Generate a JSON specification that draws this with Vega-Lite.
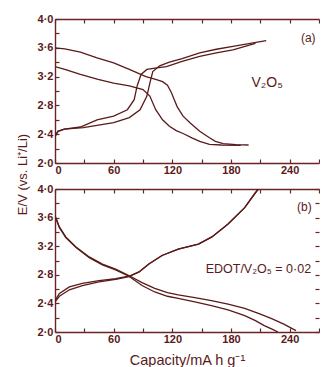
{
  "$schema": "https://vega.github.io/schema/vega-lite/v6.json",
  "background": "white",
  "padding": {"left": 16, "top": 13, "right": 0, "bottom": 0},
  "bounds": "flush",
  "spacing": 26,
  "config": {
    "view": {"stroke": null},
    "font": "Liberation Sans",
    "axis": {
      "domainColor": "#6a2424", "domainWidth": 1.4, "tickColor": "#6a2424", "tickWidth": 1.2,
      "tickSize": -4, "labelColor": "#5a1a1a", "labelFont": "Liberation Sans", "labelFontSize": 11,
      "labelFontWeight": "bold", "grid": false, "titleColor": "#5a1a1a", "titleFont": "Liberation Sans",
      "titleFontWeight": "normal", "titleFontSize": 13
    },
    "text": {"font": "Liberation Sans", "color": "#5a1a1a"}
  },
  "datasets": {
    "a": [
      {"s": "d1", "cap": 0, "v": 3.60}, {"s": "d1", "cap": 10, "v": 3.585}, {"s": "d1", "cap": 26, "v": 3.54},
      {"s": "d1", "cap": 43, "v": 3.46}, {"s": "d1", "cap": 60, "v": 3.39}, {"s": "d1", "cap": 76, "v": 3.30},
      {"s": "d1", "cap": 93, "v": 3.20}, {"s": "d1", "cap": 103, "v": 3.16}, {"s": "d1", "cap": 110, "v": 3.13},
      {"s": "d1", "cap": 115, "v": 3.08}, {"s": "d1", "cap": 119, "v": 2.98}, {"s": "d1", "cap": 122, "v": 2.88},
      {"s": "d1", "cap": 125, "v": 2.78}, {"s": "d1", "cap": 131, "v": 2.65}, {"s": "d1", "cap": 138, "v": 2.56},
      {"s": "d1", "cap": 148, "v": 2.44}, {"s": "d1", "cap": 158, "v": 2.35}, {"s": "d1", "cap": 164, "v": 2.30},
      {"s": "d1", "cap": 172, "v": 2.27}, {"s": "d1", "cap": 185, "v": 2.255}, {"s": "d1", "cap": 198, "v": 2.25},
      {"s": "d2", "cap": 0, "v": 3.34}, {"s": "d2", "cap": 10, "v": 3.30}, {"s": "d2", "cap": 26, "v": 3.23},
      {"s": "d2", "cap": 44, "v": 3.16}, {"s": "d2", "cap": 60, "v": 3.11}, {"s": "d2", "cap": 76, "v": 3.07},
      {"s": "d2", "cap": 90, "v": 3.02}, {"s": "d2", "cap": 97, "v": 2.93}, {"s": "d2", "cap": 103, "v": 2.74},
      {"s": "d2", "cap": 110, "v": 2.60}, {"s": "d2", "cap": 117, "v": 2.51}, {"s": "d2", "cap": 124, "v": 2.45},
      {"s": "d2", "cap": 131, "v": 2.41}, {"s": "d2", "cap": 140, "v": 2.35}, {"s": "d2", "cap": 148, "v": 2.30},
      {"s": "d2", "cap": 158, "v": 2.26}, {"s": "d2", "cap": 170, "v": 2.25}, {"s": "d2", "cap": 190, "v": 2.245},
      {"s": "c1", "cap": 0, "v": 2.37}, {"s": "c1", "cap": 3, "v": 2.44}, {"s": "c1", "cap": 9.5, "v": 2.47},
      {"s": "c1", "cap": 26, "v": 2.50}, {"s": "c1", "cap": 43, "v": 2.60}, {"s": "c1", "cap": 60, "v": 2.65},
      {"s": "c1", "cap": 74, "v": 2.74}, {"s": "c1", "cap": 81, "v": 2.88}, {"s": "c1", "cap": 84, "v": 3.07},
      {"s": "c1", "cap": 88, "v": 3.23}, {"s": "c1", "cap": 94, "v": 3.30}, {"s": "c1", "cap": 104, "v": 3.32},
      {"s": "c1", "cap": 114, "v": 3.34}, {"s": "c1", "cap": 130, "v": 3.41}, {"s": "c1", "cap": 148, "v": 3.48},
      {"s": "c1", "cap": 165, "v": 3.53}, {"s": "c1", "cap": 182, "v": 3.57}, {"s": "c1", "cap": 205, "v": 3.66},
      {"s": "c2", "cap": 0, "v": 2.37}, {"s": "c2", "cap": 3, "v": 2.44}, {"s": "c2", "cap": 9.5, "v": 2.47},
      {"s": "c2", "cap": 29, "v": 2.49}, {"s": "c2", "cap": 60, "v": 2.56}, {"s": "c2", "cap": 76, "v": 2.63},
      {"s": "c2", "cap": 87, "v": 2.74}, {"s": "c2", "cap": 94, "v": 2.93}, {"s": "c2", "cap": 97, "v": 3.11},
      {"s": "c2", "cap": 100, "v": 3.27}, {"s": "c2", "cap": 107, "v": 3.35}, {"s": "c2", "cap": 117, "v": 3.40},
      {"s": "c2", "cap": 130, "v": 3.45}, {"s": "c2", "cap": 148, "v": 3.53}, {"s": "c2", "cap": 165, "v": 3.58},
      {"s": "c2", "cap": 182, "v": 3.62}, {"s": "c2", "cap": 216, "v": 3.70}
    ],
    "b": [
      {"s": "e1", "cap": 0, "v": 3.63}, {"s": "e1", "cap": 4.5, "v": 3.47}, {"s": "e1", "cap": 11, "v": 3.33},
      {"s": "e1", "cap": 21.5, "v": 3.19}, {"s": "e1", "cap": 35, "v": 3.05}, {"s": "e1", "cap": 48.5, "v": 2.95},
      {"s": "e1", "cap": 62, "v": 2.88}, {"s": "e1", "cap": 75.5, "v": 2.79}, {"s": "e1", "cap": 89, "v": 2.69},
      {"s": "e1", "cap": 102, "v": 2.61}, {"s": "e1", "cap": 115, "v": 2.55}, {"s": "e1", "cap": 126, "v": 2.52},
      {"s": "e1", "cap": 143, "v": 2.48}, {"s": "e1", "cap": 160, "v": 2.44}, {"s": "e1", "cap": 177, "v": 2.39},
      {"s": "e1", "cap": 194, "v": 2.33}, {"s": "e1", "cap": 208, "v": 2.26}, {"s": "e1", "cap": 221, "v": 2.19},
      {"s": "e1", "cap": 234, "v": 2.11}, {"s": "e1", "cap": 246.5, "v": 2.02},
      {"s": "e2", "cap": 0, "v": 3.62}, {"s": "e2", "cap": 4.5, "v": 3.46}, {"s": "e2", "cap": 11, "v": 3.32},
      {"s": "e2", "cap": 21.5, "v": 3.18}, {"s": "e2", "cap": 35, "v": 3.04}, {"s": "e2", "cap": 48.5, "v": 2.94},
      {"s": "e2", "cap": 62, "v": 2.87}, {"s": "e2", "cap": 75.5, "v": 2.78}, {"s": "e2", "cap": 89, "v": 2.65},
      {"s": "e2", "cap": 102, "v": 2.56}, {"s": "e2", "cap": 115, "v": 2.50}, {"s": "e2", "cap": 126, "v": 2.47},
      {"s": "e2", "cap": 143, "v": 2.42}, {"s": "e2", "cap": 160, "v": 2.37}, {"s": "e2", "cap": 177, "v": 2.31},
      {"s": "e2", "cap": 194, "v": 2.23}, {"s": "e2", "cap": 205, "v": 2.16}, {"s": "e2", "cap": 214, "v": 2.09},
      {"s": "e2", "cap": 222, "v": 2.04}, {"s": "e2", "cap": 228, "v": 2.0},
      {"s": "f1", "cap": 0, "v": 2.44}, {"s": "f1", "cap": 4.5, "v": 2.54}, {"s": "f1", "cap": 14.7, "v": 2.63},
      {"s": "f1", "cap": 28, "v": 2.68}, {"s": "f1", "cap": 45, "v": 2.72}, {"s": "f1", "cap": 62, "v": 2.745},
      {"s": "f1", "cap": 75.6, "v": 2.78}, {"s": "f1", "cap": 86, "v": 2.84}, {"s": "f1", "cap": 96, "v": 2.95},
      {"s": "f1", "cap": 109.5, "v": 3.07}, {"s": "f1", "cap": 126, "v": 3.16}, {"s": "f1", "cap": 146.7, "v": 3.23},
      {"s": "f1", "cap": 160.5, "v": 3.33}, {"s": "f1", "cap": 177, "v": 3.51}, {"s": "f1", "cap": 194, "v": 3.74},
      {"s": "f1", "cap": 204, "v": 3.93}, {"s": "f1", "cap": 208, "v": 4.0},
      {"s": "f2", "cap": 0, "v": 2.42}, {"s": "f2", "cap": 4.5, "v": 2.50}, {"s": "f2", "cap": 14.7, "v": 2.59},
      {"s": "f2", "cap": 28, "v": 2.65}, {"s": "f2", "cap": 45, "v": 2.70}, {"s": "f2", "cap": 62, "v": 2.735},
      {"s": "f2", "cap": 75.6, "v": 2.775}, {"s": "f2", "cap": 86, "v": 2.84}, {"s": "f2", "cap": 96, "v": 2.95},
      {"s": "f2", "cap": 109.5, "v": 3.07}, {"s": "f2", "cap": 126, "v": 3.16}, {"s": "f2", "cap": 146.7, "v": 3.23},
      {"s": "f2", "cap": 160.5, "v": 3.33}, {"s": "f2", "cap": 177, "v": 3.51}, {"s": "f2", "cap": 194, "v": 3.74},
      {"s": "f2", "cap": 204, "v": 3.93}, {"s": "f2", "cap": 208, "v": 4.0}
    ],
    "ta": [
      {"label": "(a)", "cap": 259, "v": 3.74, "size": 12},
      {"label": "V₂O₅", "cap": 217, "v": 3.11, "size": 14}
    ],
    "tb": [
      {"label": "(b)", "cap": 255, "v": 3.75, "size": 12},
      {"label": "EDOT/V₂O₅ = 0·02", "cap": 208, "v": 2.88, "size": 12.5}
    ]
  },
  "vconcat": [
    {
      "width": 264,
      "height": 144,
      "resolve": {"axis": {"x": "independent", "y": "independent"}},
      "layer": [
        {
          "data": {"name": "a"},
          "mark": {"type": "line", "color": "#5a1a1a", "strokeWidth": 1.3, "clip": true},
          "encoding": {
            "x": {"field": "cap", "type": "quantitative", "scale": {"domain": [0, 270], "nice": false, "zero": false},
              "axis": {"orient": "bottom", "title": null, "values": [0, 30, 60, 90, 120, 150, 180, 210, 240, 270],
                "labelExpr": "datum.value % 60 == 0 && datum.value <= 240 ? datum.label : ''", "labelPadding": 5}},
            "y": {"field": "v", "type": "quantitative", "scale": {"domain": [2, 4], "nice": false, "zero": false},
              "axis": {"orient": "left", "title": "E/V (vs. Li⁺/Li)", "titleY": 155, "titlePadding": 8,
                "values": [2.0, 2.2, 2.4, 2.6, 2.8, 3.0, 3.2, 3.4, 3.6, 3.8, 4.0],
                "labelExpr": "round(datum.value*10) % 4 == 0 ? replace(format(datum.value, '.1f'), '.', '·') : ''", "labelPadding": 6}},
            "detail": {"field": "s"}
          }
        },
        {
          "data": {"name": "a"},
          "mark": {"type": "point", "opacity": 0},
          "encoding": {
            "x": {"field": "cap", "type": "quantitative",
              "axis": {"orient": "top", "title": null, "labels": false, "values": [0, 30, 60, 90, 120, 150, 180, 210, 240, 270]}},
            "y": {"field": "v", "type": "quantitative", "axis": null}
          }
        },
        {
          "data": {"name": "ta"},
          "mark": {"type": "text"},
          "encoding": {
            "x": {"field": "cap", "type": "quantitative", "axis": null},
            "y": {"field": "v", "type": "quantitative", "axis": null},
            "size": {"field": "size", "type": "quantitative", "scale": null, "legend": null},
            "text": {"field": "label"}
          }
        }
      ]
    },
    {
      "width": 264,
      "height": 143,
      "resolve": {"axis": {"x": "independent", "y": "independent"}},
      "layer": [
        {
          "data": {"name": "b"},
          "mark": {"type": "line", "color": "#5a1a1a", "strokeWidth": 1.3, "clip": true},
          "encoding": {
            "x": {"field": "cap", "type": "quantitative", "scale": {"domain": [0, 270], "nice": false, "zero": false},
              "axis": {"orient": "bottom", "title": "Capacity/mA h g⁻¹", "titlePadding": 9, "titleFontSize": 14.5,
                "values": [0, 30, 60, 90, 120, 150, 180, 210, 240, 270],
                "labelExpr": "datum.value % 60 == 0 && datum.value <= 240 ? datum.label : ''", "labelPadding": 5}},
            "y": {"field": "v", "type": "quantitative", "scale": {"domain": [2, 4], "nice": false, "zero": false},
              "axis": {"orient": "left", "title": null,
                "values": [2.0, 2.2, 2.4, 2.6, 2.8, 3.0, 3.2, 3.4, 3.6, 3.8, 4.0],
                "labelExpr": "round(datum.value*10) % 4 == 0 ? replace(format(datum.value, '.1f'), '.', '·') : ''", "labelPadding": 6}},
            "detail": {"field": "s"}
          }
        },
        {
          "data": {"name": "b"},
          "mark": {"type": "point", "opacity": 0},
          "encoding": {
            "x": {"field": "cap", "type": "quantitative",
              "axis": {"orient": "top", "title": null, "labels": false, "values": [0, 30, 60, 90, 120, 150, 180, 210, 240, 270]}},
            "y": {"field": "v", "type": "quantitative",
              "axis": {"orient": "right", "title": null, "labels": false, "domain": false, "values": [2.0, 2.2, 2.4, 2.6, 2.8, 3.0, 3.2, 3.4, 3.6, 3.8, 4.0]}}
          }
        },
        {
          "data": {"name": "tb"},
          "mark": {"type": "text"},
          "encoding": {
            "x": {"field": "cap", "type": "quantitative", "axis": null},
            "y": {"field": "v", "type": "quantitative", "axis": null},
            "size": {"field": "size", "type": "quantitative", "scale": null, "legend": null},
            "text": {"field": "label"}
          }
        }
      ]
    }
  ]
}
